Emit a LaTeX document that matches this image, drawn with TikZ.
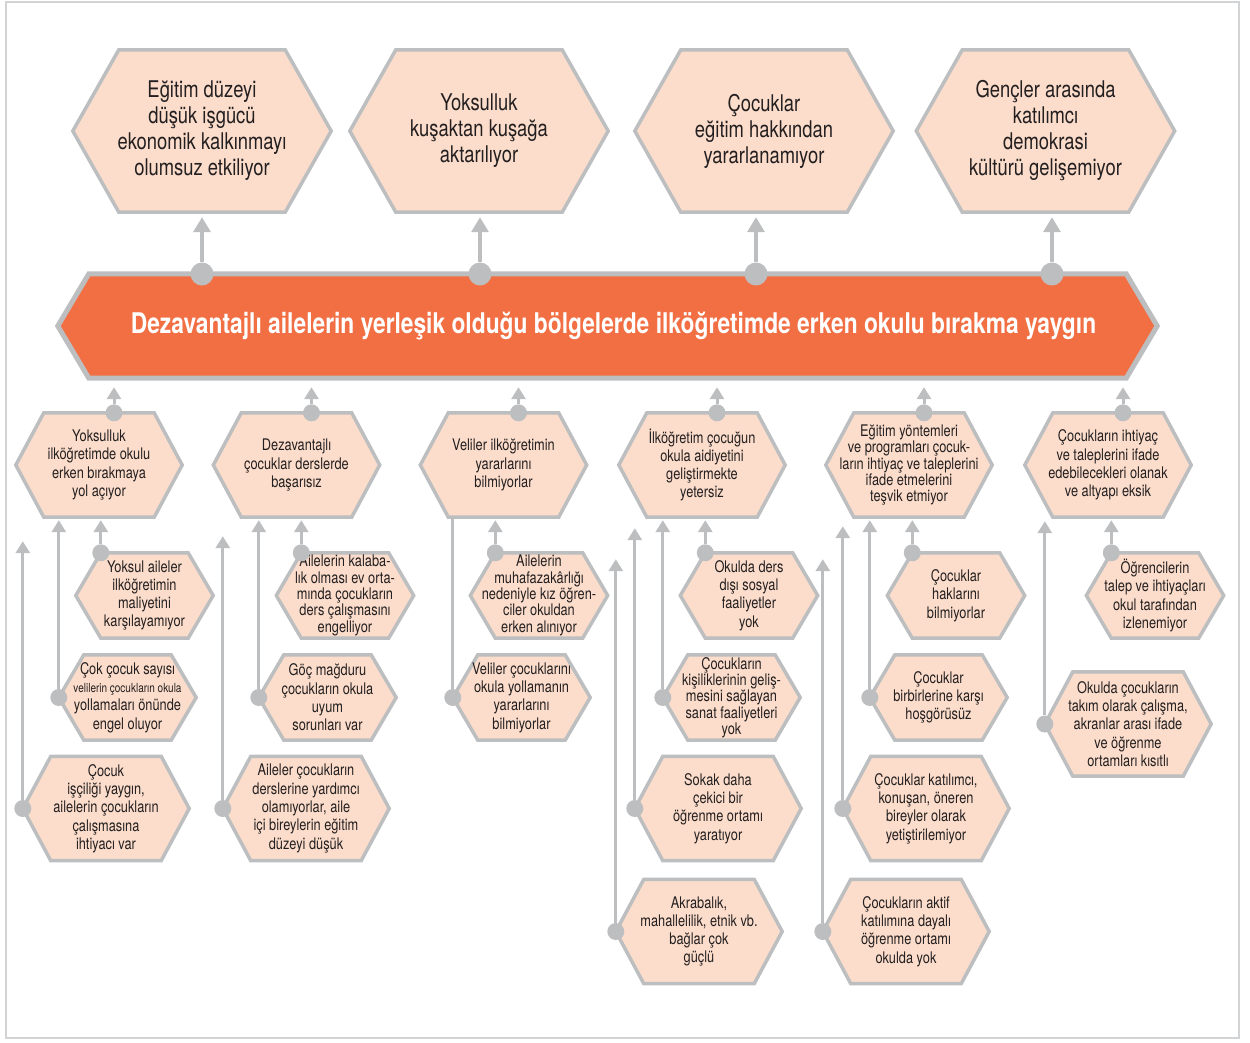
\documentclass[tikz,border=0pt]{standalone}
\usepackage{fontspec}
\setmainfont{TeX Gyre Heros}[FakeStretch=0.8]
\usetikzlibrary{arrows.meta,backgrounds,calc}

\definecolor{linegray}{HTML}{BCBEC0}
\definecolor{framegray}{HTML}{D1D3D4}
\definecolor{hexfill}{HTML}{FCDDCB}
\definecolor{barorange}{HTML}{F26F44}
\definecolor{textdark}{HTML}{231F20}

\tikzset{
  hexbase/.style={inner sep=0pt, align=center, text=textdark, font=\fontsize{16}{18.3}\selectfont},
  hexbig/.style={hexbase, minimum width=258pt, minimum height=162pt, font=\fontsize{23}{26}\selectfont},
  hexmid/.style={hexbase, minimum width=166pt, minimum height=104pt},
  hexsmall/.style={hexbase, minimum width=137pt, minimum height=85pt},
  tight/.style={font=\fontsize{16}{16.3}\selectfont},
  hexline/.style={draw=linegray, line width=3.5pt, fill=hexfill},
  dot/.style={circle, fill=linegray, inner sep=0pt, minimum size=17pt},
  bigdot/.style={dot, minimum size=23pt},
  link/.style={draw=linegray, line width=3pt, -{Triangle[width=14pt,length=12pt]}},
  biglink/.style={link, line width=3.5pt, -{Triangle[width=17pt,length=15pt]}},
}

\begin{document}
\begin{tikzpicture}[x=1pt,y=-1pt]
  \useasboundingbox (0,0) rectangle (1250,1042);

  % top row
  \node[hexbig] (T1) at (202,131) {Eğitim düzeyi\\düşük işgücü\\ekonomik kalkınmayı\\olumsuz etkiliyor};
  \node[hexbig] (T2) at (479,131) {Yoksulluk\\kuşaktan kuşağa\\aktarılıyor};
  \node[hexbig] (T3) at (764,131) {Çocuklar\\eğitim hakkından\\yararlanamıyor};
  \node[hexbig] (T4) at (1045.5,131) {Gençler arasında\\katılımcı\\demokrasi\\kültürü gelişemiyor};

  % main problem
  \node[inner sep=0pt, minimum width=1099pt, minimum height=104pt, text=white,
        font=\fontsize{28.5}{32}\selectfont\bfseries] (bar) at (607.5,326)
    {\hspace*{12pt}Dezavantajlı ailelerin yerleşik olduğu bölgelerde ilköğretimde erken okulu bırakma yaygın};

  % causes, first level
  \node[hexmid] (A1) at (99,465) {Yoksulluk\\ilköğretimde okulu\\erken bırakmaya\\yol açıyor};
  \node[hexmid] (B1) at (296.5,465) {Dezavantajlı\\çocuklar derslerde\\başarısız};
  \node[hexmid] (C1) at (503.5,465) {Veliler ilköğretimin\\yararlarını\\bilmiyorlar};
  \node[hexmid] (D1) at (702,465) {İlköğretim çocuğun\\okula aidiyetini\\geliştirmekte\\yetersiz};
  \node[hexmid,tight] (E1) at (909,465) {Eğitim yöntemleri\\ve programları çocuk-\\ların ihtiyaç ve taleplerini\\ifade etmelerini\\teşvik etmiyor};
  \node[hexmid] (F1) at (1108,465) {Çocukların ihtiyaç\\ve taleplerini ifade\\edebilecekleri olanak\\ve altyapı eksik};

  % causes, second level
  \node[hexsmall] (A2) at (144.5,595.5) {Yoksul aileler\\ilköğretimin\\maliyetini\\karşılayamıyor};
  \node[hexsmall,tight] (B2) at (345,595.5) {Ailelerin kalaba-\\lık olması ev orta-\\mında çocukların\\ders çalışmasını\\engelliyor};
  \node[hexsmall,tight] (C2) at (539,595.5) {Ailelerin\\muhafazakârlığı\\nedeniyle kız öğren-\\ciler okuldan\\erken alınıyor};
  \node[hexsmall] (D2) at (749,595.5) {Okulda ders\\dışı sosyal\\faaliyetler\\yok};
  \node[hexsmall] (E2) at (956,595.5) {Çocuklar\\haklarını\\bilmiyorlar};
  \node[hexsmall] (F2) at (1155,595.5) {Öğrencilerin\\talep ve ihtiyaçları\\okul tarafından\\izlenemiyor};

  \node[hexsmall] (A3) at (127.5,697.5) {Çok çocuk sayısı\\{\fontsize{12.5}{18.3}\selectfont velilerin çocukların okula}\\yollamaları önünde\\engel oluyor};
  \node[hexsmall] (B3) at (327.5,697.5) {Göç mağduru\\çocukların okula\\uyum\\sorunları var};
  \node[hexsmall] (C3) at (521.5,697.5) {Veliler çocuklarını\\okula yollamanın\\yararlarını\\bilmiyorlar};
  \node[hexsmall,tight] (D3) at (731.5,697.5) {Çocukların\\kişiliklerinin geliş-\\mesini sağlayan\\sanat faaliyetleri\\yok};
  \node[hexsmall] (E3) at (938.5,697.5) {Çocuklar\\birbirlerine karşı\\hoşgörüsüz};
  \node[hexmid] (F3) at (1128,724) {Okulda çocukların\\takım olarak çalışma,\\akranlar arası ifade\\ve öğrenme\\ortamları kısıtlı};

  \node[hexmid] (A4) at (106,808.5) {Çocuk\\işçiliği yaygın,\\ailelerin çocukların\\çalışmasına\\ihtiyacı var};
  \node[hexmid] (B4) at (306,808.5) {Aileler çocukların\\derslerine yardımcı\\olamıyorlar, aile\\içi bireylerin eğitim\\düzeyi düşük};
  \node[hexmid] (D4) at (718,808.5) {Sokak daha\\çekici bir\\öğrenme ortamı\\yaratıyor};
  \node[hexmid] (E4) at (926,808.5) {Çocuklar katılımcı,\\konuşan, öneren\\bireyler olarak\\yetiştirilemiyor};

  \node[hexmid] (D5) at (699,931.5) {Akrabalık,\\mahallelilik, etnik vb.\\bağlar çok\\güçlü};
  \node[hexmid] (E5) at (906,931.5) {Çocukların aktif\\katılımına dayalı\\öğrenme ortamı\\okulda yok};

  % hexagons and frame behind the text
  \begin{scope}[on background layer]
    \draw[framegray, line width=2.5pt] (6,2) rectangle (1239,1038);
    \filldraw[draw=linegray, fill=barorange, line width=5pt]
      (bar.west) -- ([xshift=31pt]bar.north west) -- ([xshift=-31pt]bar.north east) -- (bar.east)
      -- ([xshift=-31pt]bar.south east) -- ([xshift=31pt]bar.south west) -- cycle;
    \foreach \n/\i in {T1/46pt,T2/46pt,T3/46pt,T4/46pt,A1/28pt,B1/28pt,C1/28pt,D1/28pt,E1/28pt,F1/28pt,
        A2/25pt,B2/25pt,C2/25pt,D2/25pt,E2/25pt,F2/25pt,A3/25pt,B3/25pt,C3/25pt,D3/25pt,E3/25pt,F3/28pt,
        A4/28pt,B4/28pt,D4/28pt,E4/28pt,D5/28pt,E5/28pt}
      \filldraw[hexline] (\n.west) -- ([xshift=\i]\n.north west) -- ([xshift=-\i]\n.north east) -- (\n.east)
        -- ([xshift=-\i]\n.south east) -- ([xshift=\i]\n.south west) -- cycle;
  \end{scope}

  % bar to consequences
  \node[bigdot] (dT1) at (202,274) {};
  \node[bigdot] (dT2) at (480,274) {};
  \node[bigdot] (dT3) at (756,274) {};
  \node[bigdot] (dT4) at (1052,274) {};
  \foreach \n in {1,2,3,4}
    \draw[biglink, shorten >=5pt] (dT\n) -- (dT\n |- T\n.south);

  % first level causes to bar
  \foreach \n in {A,B,C,D,E,F} {
    \node[dot] (d\n1) at ([xshift=15pt]\n1.north) {};
    \draw[link, shorten >=9pt] (d\n1) -- (d\n1 |- bar.south);
  }

  % second level causes
  \foreach \n in {A,B,C,D,E,F} {
    \node[dot] (d\n2) at ([xshift=25pt]\n2.north west) {};
    \draw[link, shorten >=3pt] (d\n2) -- (d\n2 |- \n1.south);
  }

  % long feeders from the left corner
  \foreach \n/\p/\s in {A3/A1/3pt,A4/A1/24pt,B3/B1/3pt,B4/B1/19pt,D3/D1/3pt,D4/D1/11pt,D5/D1/42pt,
      E3/E1/3pt,E4/E1/9pt,E5/E1/42pt,F3/F1/4pt} {
    \node[dot] (d\n) at (\n.west) {};
    \draw[link, shorten >=\s] (d\n) -- (d\n |- \p.south);
  }
  \node[dot] (dC3) at (C3.west) {};
  \draw[link, -] (dC3) -- (dC3 |- C1.south);
\end{tikzpicture}
\end{document}
